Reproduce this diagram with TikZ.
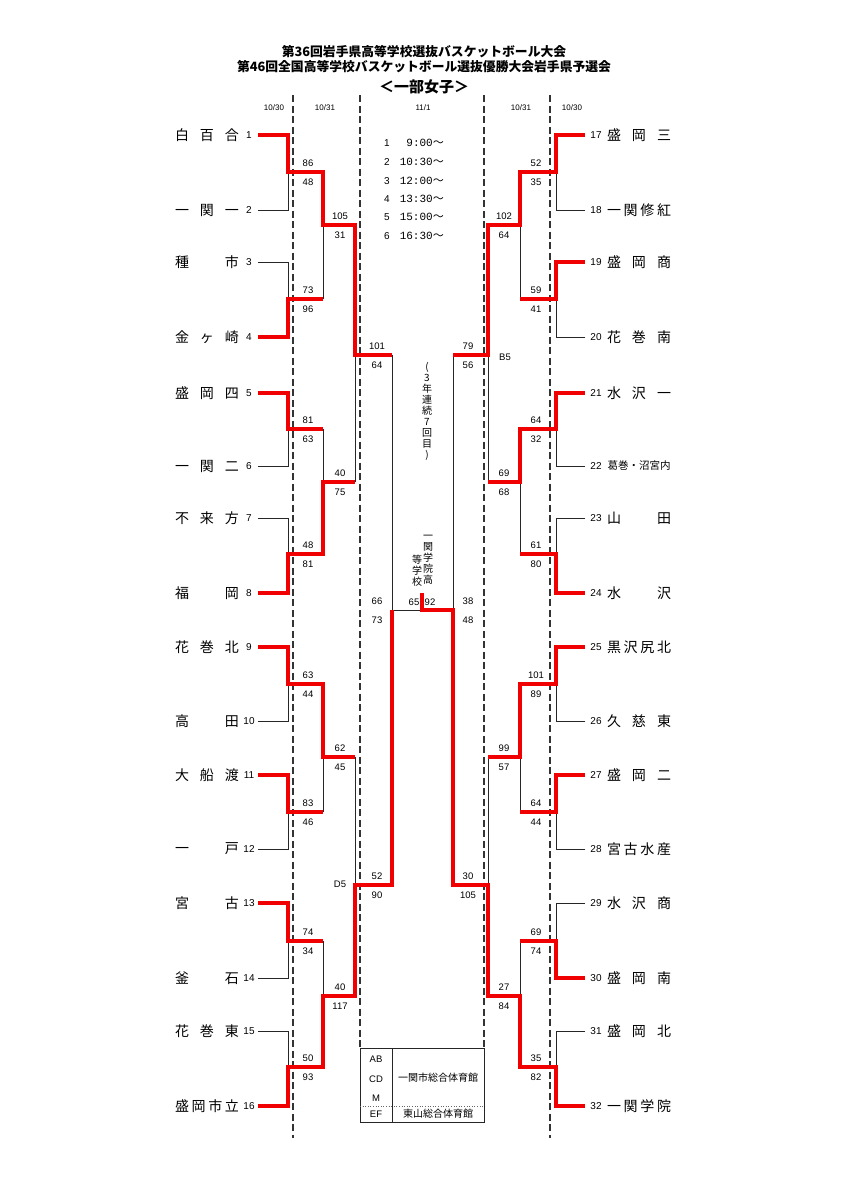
\documentclass[tikz,border=0pt]{standalone}
\usepackage{fontspec}
\setmainfont{Liberation Sans}
\newfontfamily\jp{Noto Sans CJK JP}
\newfontfamily\monof{Liberation Mono}
\definecolor{wred}{RGB}{240,0,0}
\newcommand\dn[1]{\makebox[64pt][s]{#1}}
\newcommand\lteam[3]{%
  \node[tname] (tn#1) at (207,#2) {#3};
  \node[tnum] (no#1) at (249,#2) {#1};
  \coordinate (s#1) at (258,#2);}
\newcommand\rteam[3]{%
  \node[tname] (tn#1) at (639,#2) {#3};
  \node[tnum] (no#1) at (596,#2) {#1};
  \coordinate (s#1) at (585,#2);}
\newcommand\mt[6]{%
  \coordinate (#1) at (#2,#3);
  \node[score] (#1a) at (#4,#3-9) {#5};
  \node[score] (#1b) at (#4,#3+10) {#6};}
\begin{document}
\begin{tikzpicture}[x=1pt,y=-1pt,
  bk/.style={line width=1pt, black!85},
  rd/.style={line width=3.2pt, wred},
  dsh/.style={line width=1.2pt, black!80, dash pattern=on 7pt off 3.5pt},
  tname/.style={font=\jp\fontsize{14}{14}\selectfont, inner sep=0pt},
  tnum/.style={font=\fontsize{10}{10}\selectfont, inner sep=0pt},
  score/.style={font=\fontsize{9.5}{9.5}\selectfont, inner sep=0pt},
  datel/.style={font=\fontsize{8}{8}\selectfont, inner sep=0pt},
  ttl/.style={font=\jp\bfseries\fontsize{12.8}{12.8}\selectfont, inner sep=0pt},
  vtxt/.style={font=\jp\fontsize{10}{11}\selectfont, inner sep=0pt, align=center},
  tabt/.style={font=\fontsize{9.5}{9.5}\selectfont, inner sep=0pt},
  tabj/.style={font=\jp\fontsize{10}{10}\selectfont, inner sep=0pt},
  sched/.style={font=\fontsize{10}{10}\selectfont, inner sep=0pt},
  stime/.style={font=\monof\fontsize{11}{11}\selectfont, inner sep=0pt, anchor=east}]
\fill[white] (0,0) rectangle (848,1200);
\useasboundingbox (0,0) rectangle (848,1200);

% titles
\node[ttl] (title1) at (424,52) {第36回岩手県高等学校選抜バスケットボール大会};
\node[ttl] (title2) at (424,67) {第46回全国高等学校バスケットボール選抜優勝大会岩手県予選会};
\node[ttl, font=\jp\bfseries\fontsize{15}{15}\selectfont] (title3) at (424,87) {＜一部女子＞};

% dates
\node[datel] (dt1) at (274,108) {10/30};
\node[datel] (dt2) at (325,108) {10/31};
\node[datel] (dt3) at (423,108) {11/1};
\node[datel] (dt4) at (521,108) {10/31};
\node[datel] (dt5) at (572,108) {10/30};

% dashed day separators
\coordinate (da1) at (293,95);  \coordinate (db1) at (293,1138);
\coordinate (da2) at (360,95);  \coordinate (db2) at (360,1048);
\coordinate (da3) at (484,95);  \coordinate (db3) at (484,1048);
\coordinate (da4) at (550,95);  \coordinate (db4) at (550,1138);
\draw[dsh] (da1) -- (db1);
\draw[dsh] (da2) -- (db2);
\draw[dsh] (da3) -- (db3);
\draw[dsh] (da4) -- (db4);

% schedule
\node[sched] (sn1) at (387,143) {1}; \node[stime] (st1) at (444,143) {9:00{\jp ～}};
\node[sched] (sn2) at (387,162) {2}; \node[stime] (st2) at (444,162) {10:30{\jp ～}};
\node[sched] (sn3) at (387,181) {3}; \node[stime] (st3) at (444,181) {12:00{\jp ～}};
\node[sched] (sn4) at (387,199) {4}; \node[stime] (st4) at (444,199) {13:30{\jp ～}};
\node[sched] (sn5) at (387,217) {5}; \node[stime] (st5) at (444,217) {15:00{\jp ～}};
\node[sched] (sn6) at (387,236) {6}; \node[stime] (st6) at (444,236) {16:30{\jp ～}};

% teams
\lteam{1}{135}{\dn{白 百 合}}
\lteam{2}{210}{\dn{一 関 一}}
\lteam{3}{262}{\dn{種 市}}
\lteam{4}{337}{\dn{金 ヶ 崎}}
\lteam{5}{393}{\dn{盛 岡 四}}
\lteam{6}{466}{\dn{一 関 二}}
\lteam{7}{518}{\dn{不 来 方}}
\lteam{8}{593}{\dn{福 岡}}
\lteam{9}{647}{\dn{花 巻 北}}
\lteam{10}{721}{\dn{高 田}}
\lteam{11}{775}{\dn{大 船 渡}}
\lteam{12}{849}{\dn{一 戸}}
\lteam{13}{903}{\dn{宮 古}}
\lteam{14}{978}{\dn{釜 石}}
\lteam{15}{1031}{\dn{花 巻 東}}
\lteam{16}{1106}{\dn{盛 岡 市 立}}
\rteam{17}{135}{\dn{盛 岡 三}}
\rteam{18}{210}{\dn{一 関 修 紅}}
\rteam{19}{262}{\dn{盛 岡 商}}
\rteam{20}{337}{\dn{花 巻 南}}
\rteam{21}{393}{\dn{水 沢 一}}
\rteam{22}{466}{\makebox[64pt]{\fontsize{10.5}{10.5}\selectfont 葛巻・沼宮内}}
\rteam{23}{518}{\dn{山 田}}
\rteam{24}{593}{\dn{水 沢}}
\rteam{25}{647}{\dn{黒 沢 尻 北}}
\rteam{26}{721}{\dn{久 慈 東}}
\rteam{27}{775}{\dn{盛 岡 二}}
\rteam{28}{849}{\dn{宮 古 水 産}}
\rteam{29}{903}{\dn{水 沢 商}}
\rteam{30}{978}{\dn{盛 岡 南}}
\rteam{31}{1031}{\dn{盛 岡 北}}
\rteam{32}{1106}{\dn{一 関 学 院}}

% matches: name, x, y, score x, top, bottom
\mt{L1}{288}{172}{308}{86}{48}
\mt{L2}{288}{299}{308}{73}{96}
\mt{L3}{288}{429}{308}{81}{63}
\mt{L4}{288}{554}{308}{48}{81}
\mt{L5}{288}{684}{308}{63}{44}
\mt{L6}{288}{812}{308}{83}{46}
\mt{L7}{288}{941}{308}{74}{34}
\mt{L8}{288}{1067}{308}{50}{93}
\mt{L9}{323}{225}{340}{105}{31}
\mt{L10}{323}{482}{340}{40}{75}
\mt{L11}{323}{757}{340}{62}{45}
\mt{L12}{323}{996}{340}{40}{117}
\mt{L13}{355}{355}{377}{101}{64}
\mt{L14}{355}{885}{377}{52}{90}
\mt{L15}{392}{610}{377}{66}{73}
\mt{R1}{556}{172}{536}{52}{35}
\mt{R2}{556}{299}{536}{59}{41}
\mt{R3}{556}{429}{536}{64}{32}
\mt{R4}{556}{554}{536}{61}{80}
\mt{R5}{556}{684}{536}{101}{89}
\mt{R6}{556}{812}{536}{64}{44}
\mt{R7}{556}{941}{536}{69}{74}
\mt{R8}{556}{1067}{536}{35}{82}
\mt{R9}{520}{225}{504}{102}{64}
\mt{R10}{520}{482}{504}{69}{68}
\mt{R11}{520}{757}{504}{99}{57}
\mt{R12}{520}{996}{504}{27}{84}
\mt{R13}{488}{355}{468}{79}{56}
\mt{R14}{488}{885}{468}{30}{105}
\mt{R15}{453}{610}{468}{38}{48}
\coordinate (F) at (422,610);
\coordinate (champ) at (422,593);
\node[score] (fsa) at (414,602) {65};
\node[score] (fsb) at (430,602) {92};
\node[score] (d5) at (340,884) {D5};
\node[score] (b5) at (505,357) {B5};

% losing (black) lines
\draw[bk] (s2) -| (L1);  \draw[bk] (s3) -| (L2);  \draw[bk] (s6) -| (L3);  \draw[bk] (s7) -| (L4);
\draw[bk] (s10) -| (L5); \draw[bk] (s12) -| (L6); \draw[bk] (s14) -| (L7); \draw[bk] (s15) -| (L8);
\draw[bk] (L2 -| L9) -- (L9);   \draw[bk] (L3 -| L10) -- (L10);
\draw[bk] (L6 -| L11) -- (L11); \draw[bk] (L7 -| L12) -- (L12);
\draw[bk] (L10 -| L13) -- (L13); \draw[bk] (L11 -| L14) -- (L14);
\draw[bk] (L13 -| L15) -- (L15); \draw[bk] (L15) -- (F);
\draw[bk] (s18) -| (R1); \draw[bk] (s20) -| (R2); \draw[bk] (s22) -| (R3); \draw[bk] (s23) -| (R4);
\draw[bk] (s26) -| (R5); \draw[bk] (s28) -| (R6); \draw[bk] (s29) -| (R7); \draw[bk] (s31) -| (R8);
\draw[bk] (R2 -| R9) -- (R9);   \draw[bk] (R4 -| R10) -- (R10);
\draw[bk] (R6 -| R11) -- (R11); \draw[bk] (R7 -| R12) -- (R12);
\draw[bk] (R10 -| R13) -- (R13); \draw[bk] (R11 -| R14) -- (R14);
\draw[bk] (R13 -| R15) -- (R15);

% winning (red) lines
\draw[rd] (s1) -| (L1) -| (L9) -| (L13) -- (L13 -| L15);
\draw[rd] (s4) -| (L2) -- (L2 -| L9);
\draw[rd] (s5) -| (L3) -- (L3 -| L10);
\draw[rd] (s8) -| (L4) -| (L10) -- (L10 -| L13);
\draw[rd] (s9) -| (L5) -| (L11) -- (L11 -| L14);
\draw[rd] (s11) -| (L6) -- (L6 -| L11);
\draw[rd] (s13) -| (L7) -- (L7 -| L12);
\draw[rd] (s16) -| (L8) -| (L12) -| (L14) -| (L15);
\draw[rd] (s17) -| (R1) -| (R9) -| (R13) -- (R13 -| R15);
\draw[rd] (s19) -| (R2) -- (R2 -| R9);
\draw[rd] (s21) -| (R3) -| (R10) -- (R10 -| R13);
\draw[rd] (s24) -| (R4) -- (R4 -| R10);
\draw[rd] (s25) -| (R5) -| (R11) -- (R11 -| R14);
\draw[rd] (s27) -| (R6) -- (R6 -| R11);
\draw[rd] (s30) -| (R7) -- (R7 -| R12);
\draw[rd] (s32) -| (R8) -| (R12) -| (R14) -| (R15) -- (F) -- (champ);

% vertical notes
\node[vtxt] (note1) at (427,411) {(\\3\\年\\連\\続\\7\\回\\目\\)};
\node[vtxt] (win1) at (428,560) {一\\関\\学\\院\\高};
\node[vtxt] (win2) at (417,571) {等\\学\\校};

% venue table
\coordinate (tA) at (360,1048); \coordinate (tB) at (484,1122);
\coordinate (tC) at (392,1048); \coordinate (tD) at (392,1122);
\coordinate (tE) at (360,1106); \coordinate (tF) at (484,1106);
\draw[bk] (tA) rectangle (tB);
\draw[bk] (tC) -- (tD);
\draw[black!60, line width=0.6pt, dotted] (tE) -- (tF);
\node[tabt] (vab) at (376,1059) {AB};
\node[tabt] (vcd) at (376,1079) {CD};
\node[tabt] (vm) at (376,1098) {M};
\node[tabt] (vef) at (376,1114) {EF};
\node[tabj] (ven1) at (438,1078) {一関市総合体育館};
\node[tabj] (ven2) at (438,1114) {東山総合体育館};
\end{tikzpicture}
\end{document}
